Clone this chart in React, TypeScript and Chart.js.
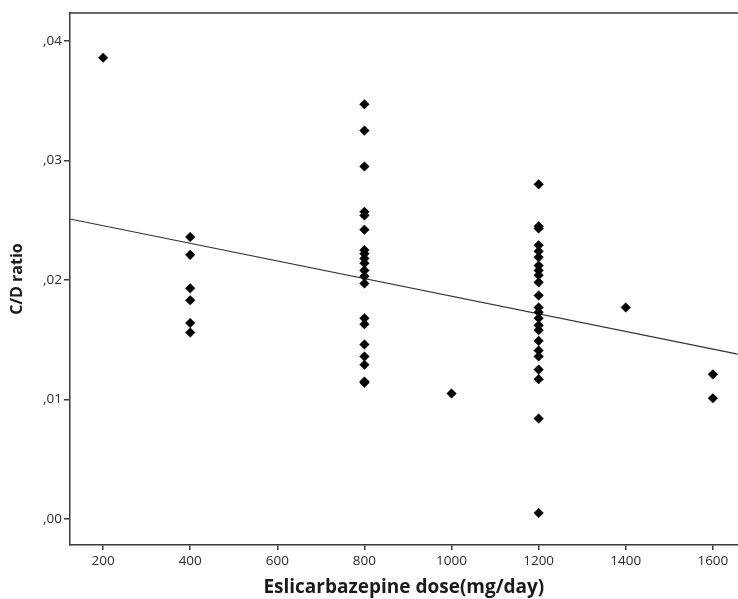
import React, { useEffect, useRef } from "react";
import { Chart, registerables } from "chart.js";

Chart.register(...registerables);

// Daily eslicarbazepine dose (mg/day) for each patient
const doses: number[] = [
  200,
  400, 400, 400, 400, 400, 400,
  800, 800, 800, 800, 800, 800, 800, 800, 800, 800, 800, 800, 800, 800, 800, 800, 800, 800, 800, 800,
  1000,
  1200, 1200, 1200, 1200, 1200, 1200, 1200, 1200, 1200, 1200, 1200, 1200, 1200, 1200, 1200, 1200, 1200,
  1200, 1200, 1200, 1200, 1200, 1200,
  1400,
  1600, 1600,
];

// Concentration-to-dose ratio for each patient (same order as doses)
const cdRatios: number[] = [
  0.0386,
  0.0236, 0.0221, 0.0193, 0.0183, 0.0164, 0.0156,
  0.0347, 0.0325, 0.0295, 0.0257, 0.0254, 0.0242, 0.0225, 0.0222, 0.0218, 0.0214, 0.0208, 0.0203,
  0.0197, 0.0168, 0.0163, 0.0146, 0.0136, 0.0129, 0.0115, 0.0114,
  0.0105,
  0.0280, 0.0245, 0.0243, 0.0229, 0.0224, 0.0219, 0.0212, 0.0208, 0.0204, 0.0198, 0.0187, 0.0177,
  0.0173, 0.0168, 0.0162, 0.0158, 0.0149, 0.0141, 0.0136, 0.0125, 0.0117, 0.0084, 0.0005,
  0.0177,
  0.0121, 0.0101,
];

// Linear fit endpoints across the dose axis
const fitDoses: number[] = [124, 1657];
const fitRatios: number[] = [0.0251, 0.0138];

const xTicks: number[] = [200, 400, 600, 800, 1000, 1200, 1400, 1600];
const yTicks: number[] = [0, 0.01, 0.02, 0.03, 0.04];

const X_MIN = 124;
const X_MAX = 1657;
const Y_MIN = -0.00218;
const Y_MAX = 0.04234;

const frameColor = "#3a3a3a";
const labelFont = "'Open Sans', 'DejaVu Sans', sans-serif";

// The layout keeps a few pixels free on the right, so the canvas is drawn
// slightly wider than its frame and the plot runs out to the frame's edge.
const FRAME_W = 738;
const FRAME_H = 599;
const CANVAS_W = 743;

// Draws the top edge of the plot frame
const topBorder = {
  id: "topBorder",
  afterDraw(chart: Chart) {
    const { ctx, chartArea } = chart;
    ctx.save();
    ctx.strokeStyle = frameColor;
    ctx.lineWidth = 1.5;
    ctx.beginPath();
    ctx.moveTo(chartArea.left, chartArea.top);
    ctx.lineTo(chartArea.right + 6, chartArea.top);
    ctx.stroke();
    ctx.restore();
  },
};

export default function App() {
  const canvasRef = useRef<HTMLCanvasElement | null>(null);

  useEffect(() => {
    const canvas = canvasRef.current;
    if (!canvas) return;

    const points = doses.map((d, i) => ({ x: d, y: cdRatios[i] }));
    const fit = fitDoses.map((d, i) => ({ x: d, y: fitRatios[i] }));

    const chart = new Chart(canvas, {
      type: "scatter",
      data: {
        datasets: [
          {
            type: "line",
            data: fit,
            borderColor: "#333333",
            borderWidth: 1.2,
            pointRadius: 0,
            fill: false,
            order: 2,
          },
          {
            data: points,
            pointStyle: "rectRot",
            pointRadius: 4.8,
            backgroundColor: "#000000",
            borderColor: "#000000",
            borderWidth: 0.5,
            order: 1,
          },
        ],
      },
      options: {
        animation: false,
        responsive: false,
        maintainAspectRatio: false,
        layout: { padding: { top: 13, right: 0, left: 0, bottom: 0 } },
        plugins: {
          legend: { display: false },
          tooltip: { enabled: false },
        },
        scales: {
          x: {
            type: "linear",
            min: X_MIN,
            max: X_MAX,
            afterBuildTicks: (scale: any) => {
              scale.ticks = xTicks.map((v) => ({ value: v }));
            },
            afterFit: (scale: any) => {
              scale.height = 54;
              scale.paddingLeft = 0;
              scale.paddingRight = 0;
            },
            grid: {
              drawOnChartArea: false,
              drawTicks: true,
              tickLength: 5,
              color: frameColor,
              lineWidth: 1.5,
            },
            border: { display: true, color: frameColor, width: 1.5 },
            ticks: {
              color: "#2a2a2a",
              padding: 3,
              font: { family: labelFont, size: 13.5 },
              maxRotation: 0,
              callback: (v: any) => String(v),
            },
            title: {
              display: true,
              text: "Eslicarbazepine dose(mg/day)",
              color: "#1a1a1a",
              font: { family: labelFont, size: 19, weight: "bold" },
              padding: { top: 0, bottom: 0 },
            },
          },
          y: {
            type: "linear",
            min: Y_MIN,
            max: Y_MAX,
            afterBuildTicks: (scale: any) => {
              scale.ticks = yTicks.map((v) => ({ value: v }));
            },
            afterFit: (scale: any) => {
              scale.width = 70;
            },
            grid: {
              drawOnChartArea: false,
              drawTicks: true,
              tickLength: 6,
              color: frameColor,
              lineWidth: 1.5,
            },
            border: { display: true, color: frameColor, width: 1.5 },
            ticks: {
              color: "#2a2a2a",
              padding: 2,
              font: { family: labelFont, size: 13.5 },
              callback: (v: any) => Number(v).toFixed(2).replace("0.", ","),
            },
            title: {
              display: true,
              text: "C/D ratio",
              color: "#1a1a1a",
              font: { family: labelFont, size: 16, weight: "bold" },
              padding: { top: 8, bottom: 0 },
            },
          },
        },
      },
      plugins: [topBorder],
    });

    return () => chart.destroy();
  }, []);

  return (
    <div
      style={{
        position: "absolute",
        left: 0,
        top: 0,
        width: FRAME_W,
        height: FRAME_H,
        overflow: "hidden",
        background: "#ffffff",
      }}
    >
      <canvas
        ref={canvasRef}
        width={CANVAS_W}
        height={FRAME_H}
        style={{ display: "block", width: CANVAS_W, height: FRAME_H }}
      />
    </div>
  );
}
